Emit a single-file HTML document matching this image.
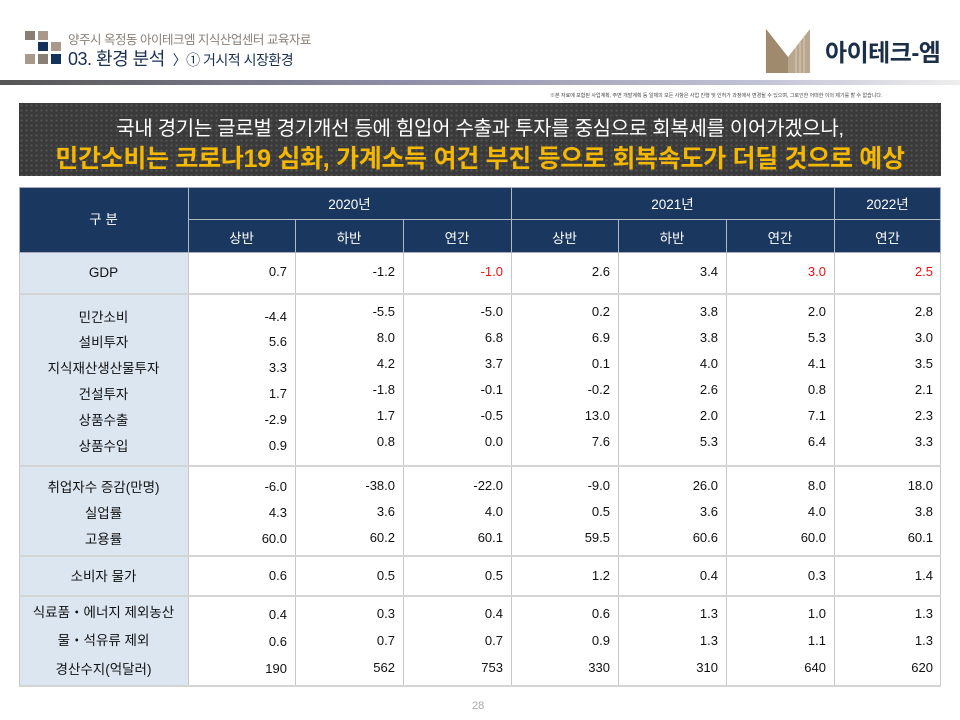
<!DOCTYPE html>
<html><head><meta charset="utf-8"><style>
*{margin:0;padding:0;box-sizing:border-box}
body{width:960px;height:720px;background:#fff;position:relative;overflow:hidden;font-family:"Liberation Sans","Noto Sans CJK KR",sans-serif}
.a{position:absolute;white-space:nowrap}
.v{position:absolute;font-size:13px;color:#111;text-align:right;line-height:16px}
.l{position:absolute;font-size:13.5px;color:#111;text-align:center;left:19px;width:169px;line-height:16px}
.h{position:absolute;color:#fff;font-size:13.5px;text-align:center;line-height:16px}
.r{color:#ee1111}
</style></head><body>
<div class="a" style="left:25px;top:31px;width:10px;height:9px;background:#8a7f74"></div>
<div class="a" style="left:38px;top:31px;width:10px;height:9px;background:#a8998a"></div>
<div class="a" style="left:38px;top:42px;width:10px;height:9px;background:#13335a"></div>
<div class="a" style="left:51px;top:42px;width:10px;height:9px;background:#a8998a"></div>
<div class="a" style="left:25px;top:54px;width:10px;height:10px;background:#a8998a"></div>
<div class="a" style="left:38px;top:54px;width:10px;height:10px;background:#8a7f74"></div>
<div class="a" style="left:51px;top:54px;width:10px;height:10px;background:#13335a"></div>
<div class="a" style="left:68px;top:29px;font-size:12.5px;color:#8a8078;letter-spacing:-0.5px">양주시 옥정동 아이테크엠 지식산업센터 교육자료</div>
<div class="a" style="left:68px;top:45px;font-size:18px;color:#1a3050;letter-spacing:-0.5px">03. 환경 분석 <span style="font-size:14px">&nbsp;〉① 거시적 시장환경</span></div>
<svg class="a" style="left:766px;top:29px" width="46" height="44"><polygon points="0,0 22,28 44,0 44,44 0,44" fill="#b8a68e"/><polygon points="0,0 22,28 22,44 0,44" fill="#a08a6e"/><g stroke="#d8ccbc" stroke-width="1"><line x1="30" y1="18" x2="30" y2="44"/><line x1="34" y1="12" x2="34" y2="44"/><line x1="38" y1="7" x2="38" y2="44"/></g></svg>
<div class="a" style="left:825px;top:33px;font-size:24px;font-weight:bold;color:#1b3048;letter-spacing:-0.5px">아이테크-엠</div>
<div class="a" style="left:0;top:80px;width:960px;height:5px;background:linear-gradient(to right,#555,#8c8ca6 40%,#c4c4d8 80%,#eee)"></div>
<div class="a" style="left:550px;top:92px;font-size:5px;color:#444">※본 자료에 포함된 사업계획, 주변 개발계획 등 일체의 모든 사항은 사업 진행 및 인허가 과정에서 변경될 수 있으며, 그로인한 어떠한 이의 제기를 할 수 없습니다.</div>
<div class="a" style="left:19px;top:103px;width:922px;height:73px;background-color:#3a3a3a;background-image:radial-gradient(#555 1px,transparent 1.2px);background-size:5px 5px"></div>
<div class="a" style="left:19px;top:112px;width:922px;text-align:center;font-size:20px;color:#fff;letter-spacing:-0.3px">국내 경기는 글로벌 경기개선 등에 힘입어 수출과 투자를 중심으로 회복세를 이어가겠으나,</div>
<div class="a" style="left:19px;top:139px;width:922px;text-align:center;font-size:25px;font-weight:bold;color:#f5b800;letter-spacing:-0.3px">민간소비는 코로나19 심화, 가계소득 여건 부진 등으로 회복속도가 더딜 것으로 예상</div>
<div class="a" style="left:19px;top:187px;width:922px;height:66px;background:#1a3760;border:1px solid #aab"></div>
<div class="a" style="left:19px;top:253px;width:169px;height:433px;background:#dce6f1"></div>
<svg class="a" style="left:0;top:0" width="960" height="720">
<g stroke="#b0b8c4" stroke-width="1">
<line x1="188.5" y1="187" x2="188.5" y2="253"/><line x1="511.5" y1="187" x2="511.5" y2="253"/><line x1="834.5" y1="187" x2="834.5" y2="253"/>
<line x1="188" y1="219.5" x2="941" y2="219.5"/>
<line x1="295.5" y1="219" x2="295.5" y2="253"/><line x1="403.5" y1="219" x2="403.5" y2="253"/><line x1="618.5" y1="219" x2="618.5" y2="253"/><line x1="726.5" y1="219" x2="726.5" y2="253"/>
</g>
<g stroke="#c8c8c8" stroke-width="1">
<line x1="188.5" y1="253" x2="188.5" y2="686"/><line x1="295.5" y1="253" x2="295.5" y2="686"/><line x1="403.5" y1="253" x2="403.5" y2="686"/><line x1="511.5" y1="253" x2="511.5" y2="686"/><line x1="618.5" y1="253" x2="618.5" y2="686"/><line x1="726.5" y1="253" x2="726.5" y2="686"/><line x1="834.5" y1="253" x2="834.5" y2="686"/><line x1="940.5" y1="253" x2="940.5" y2="686"/><line x1="19.5" y1="253" x2="19.5" y2="686"/>
</g>
<g stroke="#d4d4d4" stroke-width="2">
<line x1="19" y1="294" x2="941" y2="294"/><line x1="19" y1="466" x2="941" y2="466"/><line x1="19" y1="556" x2="941" y2="556"/><line x1="19" y1="596" x2="941" y2="596"/><line x1="19" y1="686" x2="941" y2="686"/>
</g>
</svg>
<div class="h" style="left:19px;top:212px;width:169px">구 분</div>
<div class="h" style="left:188px;top:197px;width:323px">2020년</div>
<div class="h" style="left:511px;top:197px;width:323px">2021년</div>
<div class="h" style="left:834px;top:197px;width:107px">2022년</div>
<div class="h" style="left:188px;top:231px;width:107px">상반</div>
<div class="h" style="left:295px;top:231px;width:108px">하반</div>
<div class="h" style="left:403px;top:231px;width:108px">연간</div>
<div class="h" style="left:511px;top:231px;width:107px">상반</div>
<div class="h" style="left:618px;top:231px;width:108px">하반</div>
<div class="h" style="left:726px;top:231px;width:108px">연간</div>
<div class="h" style="left:834px;top:231px;width:107px">연간</div>

<div class="l" style="top:265px">GDP</div>
<div class="l" style="top:310px">민간소비</div>
<div class="l" style="top:335px">설비투자</div>
<div class="l" style="top:361px">지식재산생산물투자</div>
<div class="l" style="top:387px">건설투자</div>
<div class="l" style="top:413px">상품수출</div>
<div class="l" style="top:439px">상품수입</div>
<div class="l" style="top:480px">취업자수 증감(만명)</div>
<div class="l" style="top:506px">실업률</div>
<div class="l" style="top:532px">고용률</div>
<div class="l" style="top:569px">소비자 물가</div>
<div class="l" style="top:605px;left:17px;width:173px">식료품・에너지 제외농산</div>
<div class="l" style="top:633px">물・석유류 제외</div>
<div class="l" style="top:662px">경산수지(억달러)</div>

<div id="vals"></div>
<script>
var cols=[287,395,503,610,718,826,933];
var rows=[
[272,272,["0.7","-1.2","r-1.0","2.6","3.4","r3.0","r2.5"]],
[317,312,["-4.4","-5.5","-5.0","0.2","3.8","2.0","2.8"]],
[342,338,["5.6","8.0","6.8","6.9","3.8","5.3","3.0"]],
[368,364,["3.3","4.2","3.7","0.1","4.0","4.1","3.5"]],
[394,390,["1.7","-1.8","-0.1","-0.2","2.6","0.8","2.1"]],
[420,416,["-2.9","1.7","-0.5","13.0","2.0","7.1","2.3"]],
[446,442,["0.9","0.8","0.0","7.6","5.3","6.4","3.3"]],
[487,486,["-6.0","-38.0","-22.0","-9.0","26.0","8.0","18.0"]],
[513,512,["4.3","3.6","4.0","0.5","3.6","4.0","3.8"]],
[539,538,["60.0","60.2","60.1","59.5","60.6","60.0","60.1"]],
[576,576,["0.6","0.5","0.5","1.2","0.4","0.3","1.4"]],
[615,614,["0.4","0.3","0.4","0.6","1.3","1.0","1.3"]],
[642,641,["0.6","0.7","0.7","0.9","1.3","1.1","1.3"]],
[669,668,["190","562","753","330","310","640","620"]]];
var h="";
rows.forEach(function(r){r[2].forEach(function(t,i){var y=(i==0?r[0]:r[1])-8;var red=t[0]=="r";if(red)t=t.slice(1);
h+='<div class="v'+(red?' r':'')+'" style="left:'+(cols[i]-80)+'px;width:80px;top:'+y+'px">'+t+'</div>';});});
document.getElementById("vals").innerHTML=h;
</script>
<div class="a" style="left:472px;top:700px;font-size:11px;color:#aaa">28</div>
</body></html>
